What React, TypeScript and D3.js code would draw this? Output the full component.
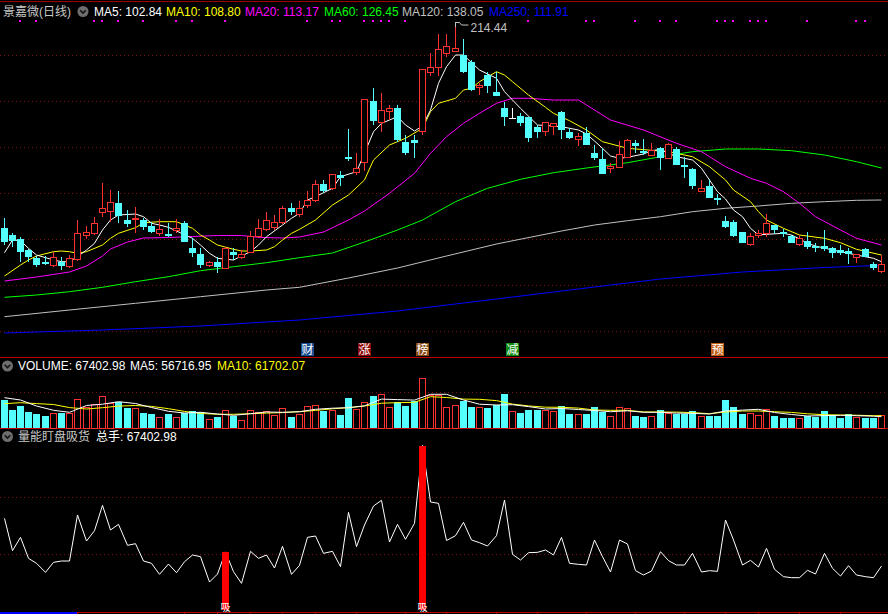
import React from "react";
import * as d3 from "d3";

// daily candles (price units)
const opens = [
  111.15, 107.8, 105.65, 100.3, 96.45, 94.55, 92.65, 94.3, 92.45, 95.8,
  107.8, 108.65, 119.45, 119.8, 123.95, 115.3, 115.65, 115.3, 112.3, 108.95,
  108.3, 110.3, 113.95, 101.45, 98.3, 92.8, 94.45, 91.45, 99.45, 96.95,
  99.45, 107.45, 110.8, 111.65, 114.15, 121.15, 118.3, 122.8, 125.3, 133.3,
  131.15, 137.95, 146.65, 139.45, 144.15, 174.8, 164.45, 169.95, 171.45, 154.45,
  155.3, 159.95, 189.45, 191.65, 198.65, 199.95, 197.8, 194.45, 181.65, 187.8,
  179.45, 171.15, 166.45, 167.45, 166.95, 161.95, 159.8, 162.3, 169.45, 159.45,
  156.05, 158.8, 148.65, 145.8, 141.15, 141.95, 146.95, 153.95, 149.95, 147.8,
  151.15, 146.15, 150.8, 142.8, 140.65, 129.95, 132.3, 126.15, 114.8, 114.15,
  109.15, 103.3, 107.8, 108.95, 112.65, 109.15, 107.3, 103.15, 104.95, 102.3,
  102.3, 101.15, 100.3, 99.8, 96.95, 100.65, 93.3, 89.95,
];
const highs = [
  116.15, 108.95, 106.65, 100.65, 97.3, 97.3, 99.45, 96.65, 97.8, 115.3,
  112.3, 116.95, 133.95, 130.3, 129.8, 120.3, 121.95, 116.15, 114.45, 115.65,
  113.65, 115.65, 114.95, 106.15, 101.15, 94.8, 96.95, 101.95, 101.45, 100.3,
  109.8, 115.8, 119.3, 117.8, 122.3, 123.65, 124.8, 129.8, 135.3, 135.3,
  138.3, 139.95, 160.8, 148.65, 175.65, 181.15, 178.95, 172.8, 172.8, 157.8,
  157.8, 190.65, 198.65, 208.3, 208.15, 214.44, 205.8, 195.3, 183.65, 189.45,
  189.45, 174.45, 171.3, 168.65, 166.95, 162.8, 164.45, 163.65, 169.95, 161.15,
  158.65, 161.8, 152.8, 151.15, 143.95, 154.95, 155.65, 155.3, 155.65, 153.95,
  151.65, 153.65, 151.95, 146.95, 141.15, 135.3, 135.65, 128.3, 117.3, 115.3,
  109.15, 108.65, 110.3, 118.15, 112.65, 110.65, 107.8, 107.8, 109.45, 103.65,
  110.3, 101.95, 102.8, 101.15, 98.15, 101.15, 94.45, 97.95,
];
const lows = [
  102.8, 101.95, 94.45, 94.45, 91.95, 92.8, 91.95, 90.3, 91.15, 94.8,
  105.65, 107.8, 116.95, 114.45, 113.65, 111.95, 108.95, 110.3, 108.65, 107.3,
  106.65, 108.95, 104.45, 96.95, 91.15, 91.95, 88.95, 90.65, 95.3, 95.8,
  98.65, 106.15, 109.8, 110.3, 113.3, 117.8, 116.95, 121.15, 124.45, 128.65,
  130.3, 132.3, 144.95, 137.8, 139.95, 162.8, 159.45, 165.3, 154.45, 147.8,
  146.45, 157.8, 187.45, 187.3, 196.95, 199.45, 188.65, 179.8, 177.8, 178.65,
  177.3, 162.3, 166.15, 162.3, 154.45, 156.15, 157.3, 157.8, 155.65, 155.65,
  152.3, 152.8, 145.3, 138.3, 138.95, 141.65, 146.65, 148.65, 147.8, 147.3,
  140.3, 145.65, 142.8, 136.15, 130.65, 129.45, 126.15, 122.8, 111.15, 106.65,
  103.8, 102.3, 106.15, 106.65, 108.15, 106.95, 103.65, 102.3, 100.65, 99.45,
  99.95, 96.15, 97.8, 93.3, 93.95, 96.65, 90.3, 88.95,
];
const closes = [
  104.45, 104.95, 99.45, 96.8, 92.8, 93.55, 96.65, 92.45, 96.15, 108.65,
  109.45, 113.65, 121.15, 124.15, 117.3, 113.3, 116.45, 111.65, 109.45, 110.65,
  107.3, 111.45, 104.45, 98.95, 92.8, 94.3, 91.95, 101.45, 97.8, 98.15,
  107.45, 111.45, 115.3, 114.3, 121.15, 119.45, 121.15, 125.3, 133.3, 129.95,
  138.3, 136.15, 145.65, 141.3, 175.65, 164.95, 170.3, 171.3, 155.3, 148.95,
  153.95, 190.65, 191.65, 200.8, 202.45, 201.15, 189.45, 180.3, 182.8, 182.3,
  177.45, 166.95, 166.45, 163.95, 156.45, 159.45, 164.15, 163.65, 160.3, 156.3,
  157.3, 152.8, 146.15, 138.3, 142.3, 148.3, 155.3, 152.3, 148.65, 150.3,
  146.15, 153.3, 142.8, 141.95, 132.3, 131.15, 126.45, 125.3, 111.95, 107.45,
  103.95, 107.3, 108.65, 113.65, 110.3, 108.3, 103.95, 106.45, 101.95, 101.15,
  100.65, 98.65, 98.65, 98.3, 98.15, 96.65, 91.15, 93.3,
];
// 总手 (volume)
const volumes = [
  140440, 90900, 111330, 79150, 71490, 57700, 73020, 75070, 75070, 145540,
  105710, 121540, 160350, 122560, 131240, 99070, 101620, 75070, 71490, 54640,
  70470, 57190, 74040, 84260, 81700, 42900, 55150, 89000, 58720, 40850,
  89880, 79150, 84260, 64340, 97540, 54640, 68430, 111330, 113370, 86820,
  89880, 66380, 149630, 97020, 130220, 159330, 168010, 104180, 131240, 108270,
  132780, 252000, 165460, 163420, 106470, 113880, 134310, 107240, 103150, 98050,
  113880, 168520, 85290, 76600, 87830, 88350, 91920, 84260, 111330, 71490,
  69970, 68940, 107240, 81700, 58220, 107240, 101110, 60250, 53620, 59750,
  89360, 75580, 68940, 68940, 86820, 58220, 60250, 59240, 137880, 107240,
  68940, 76090, 65880, 94480, 62310, 51060, 49530, 49530, 60770, 55150,
  86820, 63840, 52090, 67910, 53620, 51060, 49530, 67402.98,
];

// moving averages: [candle index, value]
const ma5: [number, number][] = [
  [0, 98.95], [1, 105.3], [2, 104.95], [3, 101.15], [4, 97.8], [6, 95.3], [7, 94.45], [8, 94.45],
  [9, 96.95], [10, 100.3], [11, 103.65], [12, 110.3], [13, 115.3], [14, 117.8], [16, 118.3],
  [17, 116.95], [18, 113.65], [19, 112.8], [20, 111.65], [21, 109.8], [23, 106.15], [24, 102.8],
  [25, 98.65], [26, 96.15], [28, 95.3], [29, 97.3], [30, 99.45], [31, 102.8], [32, 106.95],
  [34, 112.8], [35, 116.15], [36, 118.65], [37, 125.3], [38, 126.95], [40, 131.15], [41, 136.95],
  [43, 139.45], [44, 148.65], [45, 159.45], [46, 163.65], [48, 166.95], [49, 162.8], [50, 159.8],
  [51, 162.3], [52, 170.3], [53, 183.65], [54, 191.95], [55, 197.8], [56, 197.8], [57, 193.95],
  [58, 190.3], [60, 186.15], [61, 179.45], [62, 175.3], [63, 171.15], [65, 162.8], [67, 162.3],
  [68, 161.95], [70, 160.3], [71, 158.3], [72, 154.8], [73, 151.15], [74, 147.3], [75, 146.15],
  [76, 146.65], [78, 148.3], [79, 149.95], [80, 150.65], [81, 148.65], [82, 146.95], [84, 145.3],
  [85, 141.15], [86, 135.3], [87, 129.45], [88, 125.8], [89, 120.3], [90, 116.95], [91, 111.15],
  [92, 107.8], [93, 108.15], [95, 108.65], [96, 107.8], [97, 105.8], [98, 103.65], [99, 102.3],
  [101, 100.3], [102, 99.45], [103, 98.65], [104, 97.8], [106, 96.15], [107, 94.45],
];
const ma10: [number, number][] = [
  [0, 87.3], [2, 92.8], [3, 95.3], [4, 97.3], [6, 99.45], [7, 99.8], [8, 99.45], [9, 98.65],
  [10, 99.45], [12, 102.8], [13, 106.15], [14, 108.65], [16, 111.45], [17, 113.95], [19, 114.45],
  [21, 114.45], [23, 111.15], [24, 107.8], [25, 105.3], [26, 102.8], [28, 100.65], [29, 99.8],
  [30, 99.8], [32, 100.3], [33, 101.95], [34, 105.3], [35, 108.65], [36, 110.65], [38, 115.3],
  [40, 122.8], [42, 127.8], [44, 135.3], [45, 145.3], [47, 152.8], [49, 156.15], [51, 161.15],
  [52, 169.45], [53, 173.65], [55, 176.15], [56, 180.3], [57, 181.15], [58, 184.45], [60, 189.45],
  [61, 187.8], [62, 184.45], [64, 177.8], [66, 171.65], [67, 168.65], [69, 164.95], [71, 160.3],
  [73, 154.45], [76, 151.15], [81, 149.45], [84, 146.95], [86, 141.95], [88, 135.3], [89, 130.3],
  [91, 124.45], [92, 119.45], [93, 115.3], [95, 111.15], [97, 107.8], [100, 106.15], [102, 103.95],
  [104, 100.65], [107, 97.8],
];
const ma20: [number, number][] = [
  [0, 84.8], [4, 86.8], [8, 89.3], [10, 92.3], [12, 97.3], [13, 100.8], [15, 104.3], [17, 106.3],
  [20, 106.55], [23, 107.05], [26, 107.55], [29, 107.55], [31, 106.65], [34, 106.3], [36, 106.8],
  [39, 109.3], [42, 115.3], [44, 119.8], [47, 128.65], [50, 138.65], [52, 148.65], [54, 156.95],
  [56, 163.65], [58, 168.65], [60, 173.65], [62, 176.15], [64, 176.15], [67, 175.3], [70, 175.3],
  [71, 172.8], [74, 165.3], [78, 160.3], [82, 153.65], [85, 149.45], [88, 141.95], [91, 136.15],
  [93, 133.65], [95, 129.45], [97, 123.65], [99, 116.95], [102, 110.3], [104, 106.15], [107, 102.8],
];
const ma60: [number, number][] = [
  [0, 76.65], [4, 77.8], [8, 79.45], [12, 81.65], [16, 84.45], [20, 86.95], [24, 89.95], [28, 91.95],
  [32, 93.95], [36, 96.45], [40, 98.8], [44, 104.3], [48, 110.3], [51, 115.3], [55, 124.45],
  [59, 131.15], [63, 135.65], [67, 138.95], [71, 141.3], [76, 143.95], [80, 146.95], [84, 149.45],
  [88, 150.8], [92, 150.8], [96, 149.95], [100, 147.8], [104, 144.45], [107, 141.3],
];
const ma120: [number, number][] = [
  [0, 66.95], [8, 70.3], [16, 73.65], [24, 76.95], [32, 80.3], [36, 81.65], [42, 86.3], [48, 91.3],
  [54, 97.3], [60, 103.3], [68, 109.8], [72, 112.8], [76, 114.95], [80, 116.95], [84, 119.45],
  [88, 121.15], [92, 122.3], [96, 123.65], [100, 124.45], [104, 125.15], [107, 125.3],
];
const ma250: [number, number][] = [
  [0, 58.8], [12, 60.3], [24, 62.3], [36, 65.3], [48, 69.8], [60, 75.8], [72, 81.8], [80, 85.8],
  [90, 89.3], [100, 91.55], [107, 92.65],
];
const volMa5: [number, number][] = [
  [0, 151500], [2, 140000], [4, 110000], [6, 88500], [8, 78500], [10, 112500], [12, 119000],
  [14, 131500], [16, 122500], [18, 102500], [20, 83500], [22, 75000], [24, 78500], [26, 70000],
  [28, 63500], [30, 71500], [32, 80000], [34, 78500], [36, 81500], [38, 93500], [40, 99000],
  [42, 101500], [44, 111000], [46, 144500], [48, 142000], [50, 139500], [52, 168500], [54, 168500],
  [56, 140000], [58, 119000], [60, 115000], [62, 116500], [64, 107000], [66, 95000], [68, 97500],
  [70, 92500], [72, 87500], [74, 81500], [76, 86000], [78, 78500], [80, 78500], [82, 74500],
  [84, 73000], [86, 70000], [88, 85000], [90, 89500], [92, 93500], [94, 77500], [96, 67500],
  [98, 60000], [100, 62000], [102, 63500], [104, 61500], [106, 59000], [107, 56716.95],
];
const volMa10: [number, number][] = [
  [0, 121500], [2, 126500], [4, 122000], [6, 117500], [8, 102000], [10, 95000], [12, 101500],
  [14, 109500], [16, 112500], [18, 108000], [20, 96500], [22, 83000], [24, 73000], [26, 68500],
  [28, 68500], [30, 71500], [32, 74500], [34, 77000], [36, 81500], [38, 88000], [40, 96000],
  [42, 101500], [44, 110000], [46, 124000], [48, 126500], [50, 128500], [52, 156500], [54, 152500],
  [56, 144500], [58, 143500], [60, 137000], [62, 119500], [64, 110500], [66, 104000], [68, 103500],
  [70, 99500], [72, 90000], [74, 88500], [76, 88500], [78, 80500], [80, 80000], [82, 79500],
  [84, 77000], [86, 71500], [88, 80000], [90, 85000], [92, 85000], [94, 81500], [96, 78000],
  [98, 71000], [100, 66500], [102, 65000], [104, 64000], [106, 61500], [107, 61702.07],
];

const stockName = "景嘉微(日线)";
const maNames = ["MA5", "MA10", "MA20", "MA60", "MA120", "MA250"];
const maValues = [102.84, 108.8, 113.17, 126.45, 138.05, 111.91];
const volHeader = { vol: 67402.98, ma5: 56716.95, ma10: 61702.07 };
const signalDots = [2, 4, 11, 12, 14, 17, 21, 23, 27, 37, 40, 41, 44, 45, 46, 47, 49, 64, 71, 72, 77, 80, 82, 87, 88, 89, 91, 92, 93, 98, 104, 105];
const tagIndex = [37, 44, 51, 62, 87];
const tagText = ["财", "涨", "榜", "减", "预"];
const buySignals = [27, 51];
const priceGrid = [59.8, 82.8, 105.8, 128.8, 151.8, 174.8, 197.8];
const volGrid = [180000];
const sigGrid = [86500, 173000];
const axisTicks = [9, 22, 26, 30, 34, 38, 43, 49, 54, 60, 65, 71, 77, 83, 88, 92, 97, 102];

const W = 888;
const H = 614;
const N = opens.length;
const STEP = 8.2;
const RED = "#ff3232";
const CYAN = "#54ffff";
const GRID = "#7a1414";
const maColors = ["#ffffff", "#ffff00", "#ff00ff", "#00ff00", "#c0c0c0", "#0000ff"];
const tagColors = ["#1b4f93", "#8e0b0b", "#8a4b14", "#0f8a0f", "#c25f16"];
const FONT = "'Liberation Sans', 'Noto Sans CJK SC', sans-serif";

const Icon = ({ x, y }: { x: number; y: number }) => (
  <g transform={`translate(${x},${y})`}>
    <circle r={5.5} fill="#6e6e6e" />
    <path d="M-2.8,-1.2 L0,1.6 L2.8,-1.2" fill="none" stroke="#111" strokeWidth={1.5} />
  </g>
);

export default function App() {
  const x = d3
    .scaleBand<number>()
    .domain(d3.range(N))
    .range([0, N * STEP])
    .paddingInner(0.15)
    .paddingOuter(0.075);
  const bw = Math.round(x.bandwidth());
  const left = (i: number) => Math.round(x(i) ?? 0);
  const cx = (i: number) => left(i) + Math.floor(bw / 2) + 0.5;

  const yP = d3.scaleLinear().domain([46.8, 216.3]).range([357, 18]);
  const yV = d3.scaleLinear().domain([0, 260000]).range([428, 376]);
  const yS = d3.scaleLinear().domain([0, 260000]).range([610, 440.3]);

  const maLine = d3.line<[number, number]>().x((d) => cx(d[0])).y((d) => yP(d[1]));
  const volLine = d3.line<[number, number]>().x((d) => cx(d[0])).y((d) => yV(d[1]));
  const sigLine = d3
    .line<number>()
    .x((_, i) => cx(i))
    .y((d) => yS(d));

  const peak = d3.maxIndex(highs);
  const fmt = d3.format(".2f");
  const r = (v: number) => Math.round(v);

  return (
    <div style={{ width: W, height: H, background: "#000" }}>
      <style>{`body{margin:0;background:#000;}`}</style>
      <svg width={W} height={H} style={{ display: "block", background: "#000" }} fontFamily={FONT}>
        <rect width={W} height={H} fill="#000" />
        {/* frame lines */}
        <line x1={0} x2={W} y1={1.5} y2={1.5} stroke="#a00000" />
        <line x1={0} x2={W} y1={357.5} y2={357.5} stroke="#c00000" />
        <line x1={0} x2={W} y1={428.5} y2={428.5} stroke="#c00000" />
        <line x1={0} x2={W} y1={612.5} y2={612.5} stroke="#c00000" />
        <line x1={0} x2={78} y1={613} y2={613} stroke="#0000ff" strokeWidth={2} />
        {axisTicks.map((i) => (
          <line key={"t" + i} x1={cx(i)} x2={cx(i)} y1={612} y2={614} stroke="#c00000" />
        ))}

        {/* grids */}
        <g stroke={GRID} strokeDasharray="1 3" shapeRendering="crispEdges">
          {priceGrid.map((p) => (
            <line key={"pg" + p} x1={0} x2={W} y1={r(yP(p)) + 0.5} y2={r(yP(p)) + 0.5} />
          ))}
          {volGrid.map((v) => (
            <line key={"vg" + v} x1={0} x2={W} y1={r(yV(v)) + 0.5} y2={r(yV(v)) + 0.5} />
          ))}
          {sigGrid.map((v) => (
            <line key={"sg" + v} x1={0} x2={W} y1={r(yS(v)) + 0.5} y2={r(yS(v)) + 0.5} />
          ))}
        </g>

        {/* header */}
        <text x={3} y={16} fontSize={12} fill="#c8c8c8">{stockName}</text>
        <Icon x={83} y={11.5} />
        {maNames.map((n, k) => (
          <text key={n} x={[94, 166, 245, 324, 402, 489][k]} y={16} fontSize={12} fill={maColors[k]}>
            {`${n}: ${fmt(maValues[k])}`}
          </text>
        ))}
        {signalDots.map((i) => (
          <rect key={"d" + i} x={r(cx(i) - 1.5)} y={20} width={2} height={2} fill="#ff00ff" />
        ))}

        {/* moving averages */}
        {[ma250, ma120, ma60, ma20, ma10, ma5].map((m, k) => (
          <path key={"ma" + k} d={maLine(m) ?? ""} fill="none" stroke={maColors[5 - k]} strokeWidth={1} />
        ))}

        {/* candles */}
        <g shapeRendering="crispEdges">
          {d3.range(N).map((i) => {
            const o = opens[i], c = closes[i];
            const top = r(yP(Math.max(o, c)));
            const bot = r(yP(Math.min(o, c)));
            const hy = r(yP(highs[i]));
            const ly = r(yP(lows[i]));
            const mx = cx(i);
            if (o === c) {
              return (
                <g key={i} stroke="#ffffff">
                  <line x1={mx} x2={mx} y1={hy} y2={ly} />
                  <line x1={left(i)} x2={left(i) + bw} y1={top + 0.5} y2={top + 0.5} />
                </g>
              );
            }
            if (c > o) {
              return (
                <g key={i} stroke={RED}>
                  <line x1={mx} x2={mx} y1={hy} y2={top} />
                  <line x1={mx} x2={mx} y1={bot} y2={ly} />
                  <rect x={left(i) + 0.5} y={top + 0.5} width={bw - 1} height={Math.max(bot - top, 1)} fill="#000" />
                </g>
              );
            }
            return (
              <g key={i}>
                <line x1={mx} x2={mx} y1={hy} y2={ly} stroke={CYAN} />
                <rect x={left(i)} y={top} width={bw} height={Math.max(bot - top, 1)} fill={CYAN} />
              </g>
            );
          })}
        </g>

        {/* peak label */}
        <g stroke="#c0c0c0" fill="none">
          <path d={`M${cx(peak)},${r(yP(highs[peak]))} v5 M${cx(peak)},${r(yP(highs[peak])) + 0.5} h4 l2,2.5 h7`} />
        </g>
        <text x={cx(peak) + 15} y={32} fontSize={12} fill="#c0c0c0">{fmt(highs[peak])}</text>

        {/* event tags */}
        {tagIndex.map((i, k) => (
          <g key={"tag" + i}>
            <rect x={r(cx(i) - 6.5)} y={343} width={13} height={13} fill={tagColors[k]} />
            <text x={cx(i)} y={354} fontSize={12} fill="#fff" textAnchor="middle">{tagText[k]}</text>
          </g>
        ))}

        {/* volume panel */}
        <Icon x={7.5} y={366} />
        <text x={18} y={370} fontSize={12} fill="#ffffff">{`VOLUME: ${fmt(volHeader.vol)}`}</text>
        <text x={130} y={370} fontSize={12} fill="#ffffff">{`MA5: ${fmt(volHeader.ma5)}`}</text>
        <text x={217} y={370} fontSize={12} fill="#ffff00">{`MA10: ${fmt(volHeader.ma10)}`}</text>
        <g shapeRendering="crispEdges">
          {volumes.map((v, i) => {
            const top = r(yV(v));
            const up = closes[i] >= opens[i];
            return up ? (
              <rect key={"v" + i} x={left(i) + 0.5} y={top + 0.5} width={bw - 1} height={428 - top - 0.5} fill="#000" stroke={RED} />
            ) : (
              <rect key={"v" + i} x={left(i)} y={top} width={bw} height={428 - top} fill={CYAN} />
            );
          })}
        </g>
        <path d={volLine(volMa10) ?? ""} fill="none" stroke="#ffff00" />
        <path d={volLine(volMa5) ?? ""} fill="none" stroke="#ffffff" />

        {/* 量能盯盘吸货 panel */}
        <Icon x={7.5} y={436.5} />
        <text x={18} y={441} fontSize={12} fill="#c8c8c8">量能盯盘吸货</text>
        <text x={96} y={441} fontSize={12} fill="#ffffff">{`总手: ${fmt(volumes[N - 1])}`}</text>
        <path d={sigLine(volumes) ?? ""} fill="none" stroke="#ffffff" />
        {buySignals.map((i) => (
          <g key={"b" + i}>
            <rect x={left(i)} y={r(yS(volumes[i]))} width={bw} height={610 - r(yS(volumes[i]))} fill="#ff0000" />
            <text x={cx(i)} y={611} fontSize={10} fill="#fff" textAnchor="middle">吸</text>
          </g>
        ))}
      </svg>
    </div>
  );
}
